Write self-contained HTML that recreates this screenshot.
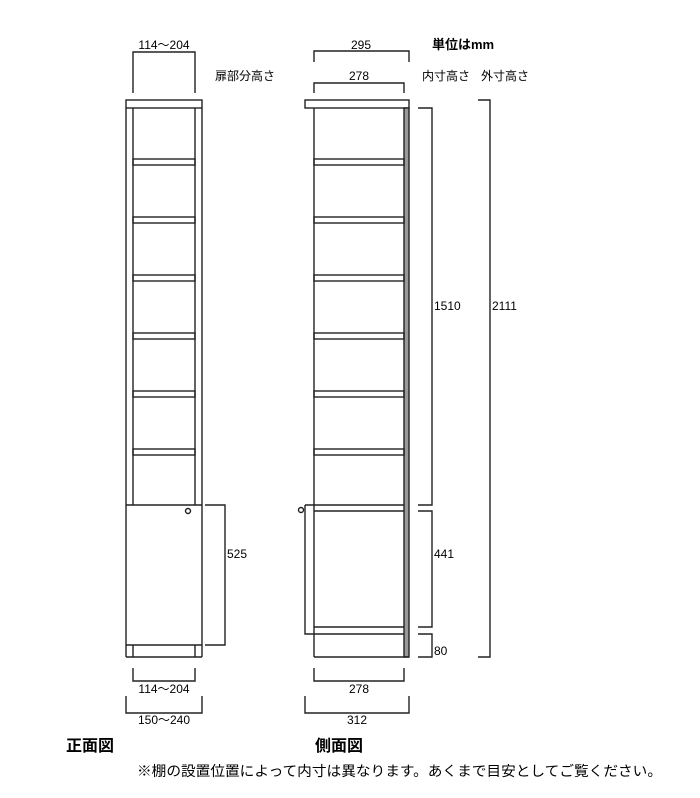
<!DOCTYPE html>
<html><head><meta charset="utf-8"><style>
html,body{margin:0;padding:0;background:#fff;}
svg{display:block;}
text{font-family:"Liberation Sans","Noto Sans CJK JP",sans-serif;fill:#000;}
</style></head><body>
<svg width="700" height="798" viewBox="0 0 700 798" xmlns="http://www.w3.org/2000/svg">
<g fill="none" stroke="#222" stroke-width="1.4">
<!-- FRONT VIEW -->
<rect x="126" y="100" width="76" height="8"/>
<line x1="126" y1="108" x2="126" y2="657"/>
<line x1="202" y1="108" x2="202" y2="657"/>
<line x1="133" y1="108" x2="133" y2="505"/>
<line x1="195" y1="108" x2="195" y2="505"/>
<g>
<rect x="133" y="159" width="62" height="6"/>
<rect x="133" y="217" width="62" height="6"/>
<rect x="133" y="275" width="62" height="6"/>
<rect x="133" y="333" width="62" height="6"/>
<rect x="133" y="391" width="62" height="6"/>
<rect x="133" y="449" width="62" height="6"/>
</g>
<line x1="126" y1="505" x2="202" y2="505"/>
<line x1="126" y1="645" x2="202" y2="645"/>
<line x1="126" y1="657" x2="202" y2="657"/>
<line x1="133" y1="645" x2="133" y2="657"/>
<line x1="195" y1="645" x2="195" y2="657"/>
<circle cx="188" cy="511" r="2.5"/>
<!-- front dims -->
<polyline points="133,93 133,52 195,52 195,93"/>
<polyline points="205,505 225,505 225,645 205,645"/>
<polyline points="133,668 133,681 195,681 195,668"/>
<polyline points="126,696 126,713 202,713 202,696"/>

<!-- SIDE VIEW -->
<rect x="305" y="100" width="104" height="8"/>
<line x1="314" y1="108" x2="314" y2="657"/>
<rect x="404" y="108" width="5" height="549" fill="#999"/>
<line x1="314" y1="657" x2="409" y2="657"/>
<g>
<rect x="314" y="159" width="90" height="6"/>
<rect x="314" y="217" width="90" height="6"/>
<rect x="314" y="275" width="90" height="6"/>
<rect x="314" y="333" width="90" height="6"/>
<rect x="314" y="391" width="90" height="6"/>
<rect x="314" y="449" width="90" height="6"/>
</g>
<line x1="305" y1="505" x2="404" y2="505"/>
<line x1="314" y1="511" x2="404" y2="511"/>
<line x1="314" y1="627" x2="404" y2="627"/>
<polyline points="305,505 305,634 404,634"/>
<circle cx="301" cy="510" r="2.5"/>
<!-- side dims -->
<polyline points="314,62 314,51 409,51 409,62"/>
<polyline points="314,93 314,83 404,83 404,93"/>
<polyline points="418,108 432,108 432,505 418,505"/>
<polyline points="418,511 432,511 432,627 418,627"/>
<polyline points="418,634 432,634 432,657 418,657"/>
<polyline points="478,100 490,100 490,657 478,657"/>
<polyline points="314,668 314,681 404,681 404,668"/>
<polyline points="305,696 305,713 409,713 409,696"/>
</g>

<g font-size="12">
<text x="164" y="49" text-anchor="middle">114～204</text>
<text x="215" y="80">扉部分高さ</text>
<text x="227" y="558">525</text>
<text x="164" y="693" text-anchor="middle">114～204</text>
<text x="164" y="724" text-anchor="middle">150～240</text>
<text x="361" y="49" text-anchor="middle">295</text>
<text x="359" y="80" text-anchor="middle">278</text>
<text x="422" y="80">内寸高さ</text>
<text x="481" y="80">外寸高さ</text>
<text x="434" y="310">1510</text>
<text x="434" y="558">441</text>
<text x="434" y="655">80</text>
<text x="492" y="310">2111</text>
<text x="359" y="693" text-anchor="middle">278</text>
<text x="357" y="724" text-anchor="middle">312</text>
</g>
<text x="432" y="49" font-size="13" font-weight="bold">単位はmm</text>
<text x="66" y="751" font-size="16" font-weight="bold">正面図</text>
<text x="315" y="751" font-size="16" font-weight="bold">側面図</text>
<text x="137" y="776" font-size="14" textLength="525" lengthAdjust="spacingAndGlyphs">※棚の設置位置によって内寸は異なります。あくまで目安としてご覧ください。</text>
</svg>
</body></html>
